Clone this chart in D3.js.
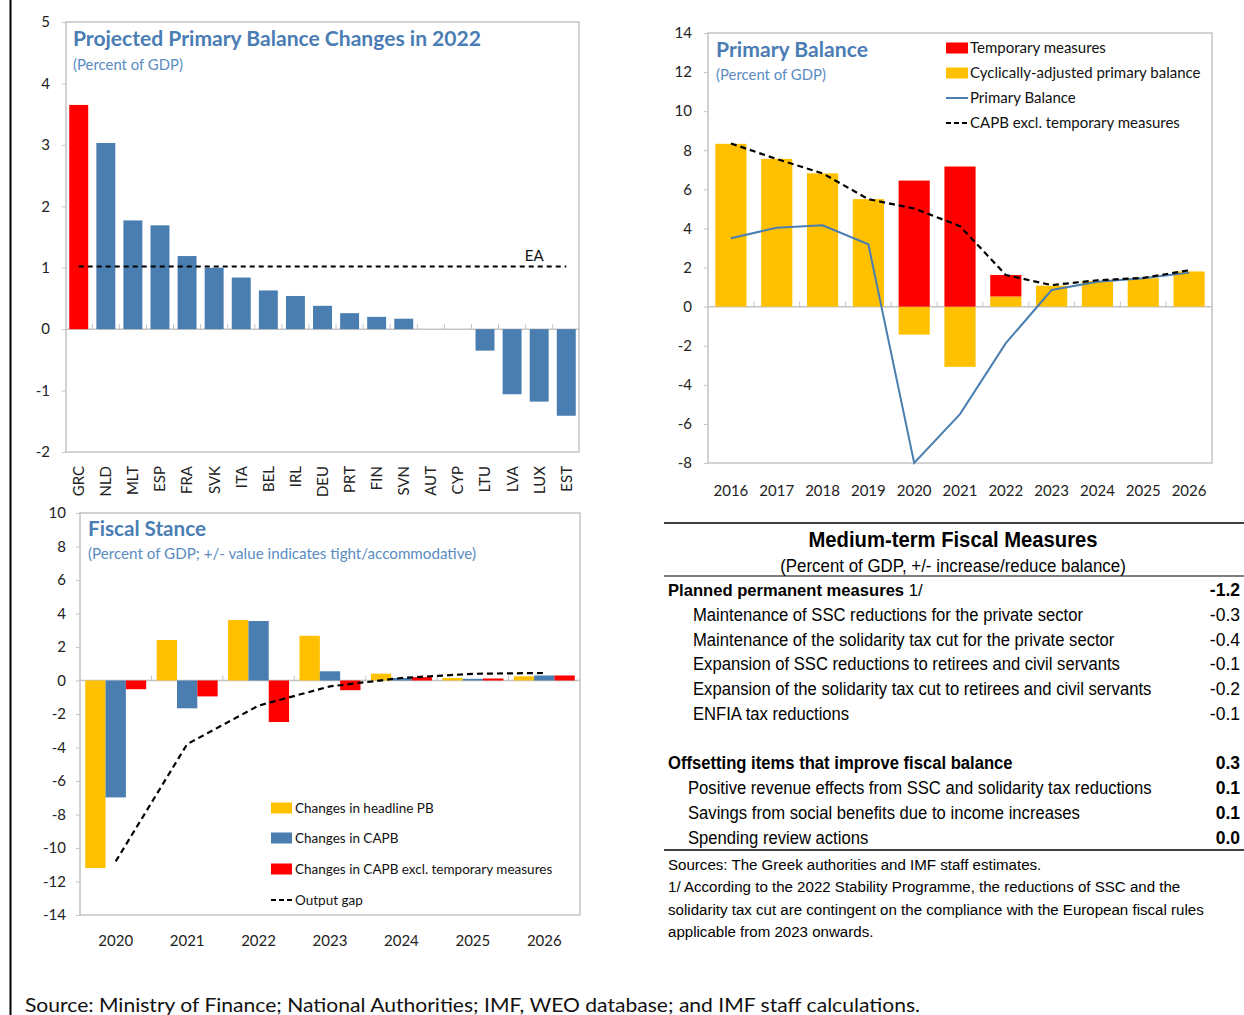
<!DOCTYPE html>
<html>
<head>
<meta charset="utf-8">
<title>Greece: Primary Balance and Fiscal Stance</title>
<script src="https://cdnjs.cloudflare.com/ajax/libs/d3/7.8.5/d3.min.js"></script>
<style>
    body { margin: 0; background: #fff; }
    svg { display: block; }
    .chart-font { font-family: Lato, "Open Sans", sans-serif; }
    .table-font { font-family: "Liberation Sans Narrow", "Arial Narrow", "Liberation Sans", sans-serif; }
</style>
</head>
<body>
<div id="chart"></div>
<script>
    // Projected primary balance changes in 2022
    const countries = ["GRC","NLD","MLT","ESP","FRA","SVK","ITA","BEL","IRL","DEU","PRT","FIN","SVN","AUT","CYP","LTU","LVA","LUX","EST"];
    const pbChange = [3.65, 3.03, 1.77, 1.69, 1.19, 1.0, 0.84, 0.63, 0.54, 0.38, 0.26, 0.2, 0.17, 0, 0, -0.35, -1.06, -1.18, -1.41];
    const eaChange = 1.02;

    // Primary balance
    const pbYears = ["2016","2017","2018","2019","2020","2021","2022","2023","2024","2025","2026"];
    const capb = [8.33, 7.56, 6.82, 5.5, -1.43, -3.08, 0.52, 1.07, 1.31, 1.45, 1.8];
    const tempMeasures = [0, 0, 0, 0, 6.45, 7.17, 1.1, 0, 0, 0, 0];
    const primaryBalance = [3.5, 4.04, 4.16, 3.19, -8.0, -5.5, -1.87, 0.85, 1.27, 1.45, 1.74];
    const capbExclTemp = [8.35, 7.55, 6.82, 5.5, 5.02, 4.12, 1.62, 1.1, 1.35, 1.47, 1.86];

    // Fiscal stance
    const fsYears = ["2020","2021","2022","2023","2024","2025","2026"];
    const chgHeadline = [-11.2, 2.42, 3.61, 2.67, 0.41, 0.15, 0.25];
    const chgCapb = [-6.98, -1.66, 3.55, 0.55, 0.15, 0.1, 0.3];
    const chgCapbExcl = [-0.52, -0.95, -2.48, -0.58, 0.2, 0.12, 0.3];
    const outputGap = [-10.8, -3.8, -1.5, -0.35, 0.15, 0.4, 0.45];

    // Medium-term fiscal measures table
    const tableLabels = [
        "Planned permanent measures",
        "Maintenance of SSC reductions for the private sector",
        "Maintenance of the solidarity tax cut for the private sector",
        "Expansion of SSC reductions to retirees and civil servants",
        "Expansion of the solidarity tax cut to retirees and civil servants",
        "ENFIA tax reductions",
        "",
        "Offsetting items that improve fiscal balance",
        "Positive revenue effects from SSC and solidarity tax reductions",
        "Savings from social benefits due to income increases",
        "Spending review actions"
    ];
    const tableValues = ["-1.2","-0.3","-0.4","-0.1","-0.2","-0.1","","0.3","0.1","0.1","0.0"];
    const tableNotes = [
        "Sources: The Greek authorities and IMF staff estimates.",
        "1/ According to the 2022 Stability Programme, the reductions of SSC and the",
        "solidarity tax cut are contingent on the compliance with the European fiscal rules",
        "applicable from 2023 onwards."
    ];

    const W = 1244, H = 1015;
    const BLUE = "#4a7eb0", RED = "#ff0000", YELLOW = "#ffc000";
    const TITLE = "#4a7db4", SUBTITLE = "#5a8cc2", FRAME = "#c4c4c4";

    const svg = d3.select("#chart").append("svg")
        .attr("width", W).attr("height", H)
        .attr("class", "chart-font");

    svg.append("rect").attr("width", W).attr("height", H).attr("fill", "#fff");
    svg.append("line")
        .attr("x1", 10.5).attr("x2", 10.5).attr("y1", 0).attr("y2", H)
        .attr("stroke", "#000").attr("stroke-width", 2);

    // helpers
    function plotBox(g, x, y) {
        const [x0, x1] = x.range(), [y0, y1] = [y.range()[1], y.range()[0]];
        g.append("rect")
            .attr("x", x0).attr("y", y0).attr("width", x1 - x0).attr("height", y1 - y0)
            .attr("fill", "none").attr("stroke", FRAME).attr("stroke-width", 1.5);
        g.append("line")
            .attr("x1", x0).attr("x2", x1).attr("y1", y(0)).attr("y2", y(0))
            .attr("stroke", FRAME).attr("stroke-width", 1.5);
        // category tick marks on the zero line
        const step = x.step(), gap = step * x.paddingInner() / 2;
        x.domain().slice(1).forEach(d => {
            g.append("line")
                .attr("x1", x(d) - gap).attr("x2", x(d) - gap)
                .attr("y1", y(0)).attr("y2", y(0) - 5)
                .attr("stroke", FRAME).attr("stroke-width", 1);
        });
    }

    function yAxis(g, x, y, step, pad) {
        const [a, b] = y.domain();
        const ax = g.append("g")
            .attr("transform", `translate(${x.range()[0]},0)`)
            .call(d3.axisLeft(y).tickValues(d3.range(a, b + step / 2, step)).tickSize(4).tickPadding(pad).tickFormat(d => String(d)));
        ax.select(".domain").remove();
        ax.selectAll("line").attr("stroke", FRAME);
        ax.selectAll("text").attr("font-size", 15).attr("fill", "#222").attr("font-family", "Lato, sans-serif");
    }

    function titles(g, x, y, title, tw, sub, sw, dy) {
        g.append("text").attr("x", x).attr("y", y)
            .attr("font-size", 21).attr("font-weight", "bold").attr("fill", TITLE)
            .attr("textLength", tw).attr("lengthAdjust", "spacingAndGlyphs")
            .text(title);
        g.append("text").attr("x", x).attr("y", y + dy)
            .attr("font-size", 15).attr("fill", SUBTITLE)
            .attr("textLength", sw).attr("lengthAdjust", "spacingAndGlyphs")
            .text(sub);
    }

    // squeeze a text to a narrower face
    function condense(t, f) {
        const len = t.node().getComputedTextLength();
        t.attr("textLength", len * f).attr("lengthAdjust", "spacingAndGlyphs");
        return len * f;
    }

    // ---------- Chart 1: Projected Primary Balance Changes in 2022
    {
        const g = svg.append("g");
        const x = d3.scaleBand().domain(countries).range([66, 579]).paddingInner(0.3).paddingOuter(0.12);
        const y = d3.scaleLinear().domain([-2, 5]).range([452, 22]);
        plotBox(g, x, y);
        yAxis(g, x, y, 1, 12);

        g.selectAll(".bar").data(countries).join("rect")
            .attr("x", d => x(d))
            .attr("width", x.bandwidth())
            .attr("y", (d, i) => y(Math.max(0, pbChange[i])))
            .attr("height", (d, i) => Math.abs(y(pbChange[i]) - y(0)))
            .attr("fill", (d, i) => i === 0 ? RED : BLUE);

        const cx = d => x(d) + x.bandwidth() / 2;
        g.append("line")
            .attr("x1", cx(countries[0])).attr("x2", cx(countries[countries.length - 1]))
            .attr("y1", y(eaChange)).attr("y2", y(eaChange))
            .attr("stroke", "#000").attr("stroke-width", 2).attr("stroke-dasharray", "5,4");
        g.append("text")
            .attr("x", cx("LUX") - 5).attr("y", y(eaChange) - 5)
            .attr("text-anchor", "middle").attr("font-size", 15).attr("fill", "#111")
            .text("EA");

        g.selectAll(".xl").data(countries).join("text")
            .attr("transform", d => `translate(${cx(d)},${y(-2) + 14}) rotate(-90)`)
            .attr("dy", "0.36em")
            .attr("text-anchor", "end").attr("font-size", 15).attr("fill", "#222")
            .text(d => d);

        titles(g, 73, 46, "Projected Primary Balance Changes in 2022", 408, "(Percent of GDP)", 110, 24);
    }

    // ---------- Chart 2: Primary Balance
    {
        const g = svg.append("g");
        const x = d3.scaleBand().domain(pbYears).range([708, 1212]).paddingInner(0.32).paddingOuter(0.16);
        const y = d3.scaleLinear().domain([-8, 14]).range([463, 33]);
        plotBox(g, x, y);
        yAxis(g, x, y, 2, 12);

        const rows = pbYears.map((yr, i) => ({ year: yr, capb: capb[i], temp: tempMeasures[i] }));
        const series = d3.stack().keys(["capb", "temp"]).offset(d3.stackOffsetDiverging)(rows);
        const colors = { capb: YELLOW, temp: RED };

        g.selectAll(".series").data(series).join("g")
            .attr("fill", s => colors[s.key])
            .selectAll("rect").data(s => s).join("rect")
            .attr("x", d => x(d.data.year))
            .attr("width", x.bandwidth())
            .attr("y", d => y(Math.max(d[0], d[1])))
            .attr("height", d => Math.abs(y(d[0]) - y(d[1])));

        const cx = d => x(d) + x.bandwidth() / 2;
        const line = d3.line().x((d, i) => cx(pbYears[i])).y(d => y(d));
        g.append("path").attr("d", line(primaryBalance))
            .attr("fill", "none").attr("stroke", BLUE).attr("stroke-width", 2);
        g.append("path").attr("d", line(capbExclTemp))
            .attr("fill", "none").attr("stroke", "#000").attr("stroke-width", 2.2).attr("stroke-dasharray", "6,4");

        g.selectAll(".xl").data(pbYears).join("text")
            .attr("x", cx).attr("y", 496)
            .attr("text-anchor", "middle").attr("font-size", 15).attr("fill", "#222")
            .text(d => d);

        titles(g, 716, 57, "Primary Balance", 152, "(Percent of GDP)", 110, 23);

        const legend = [
            { label: "Temporary measures", type: "rect", color: RED },
            { label: "Cyclically-adjusted primary balance", type: "rect", color: YELLOW },
            { label: "Primary Balance", type: "line", color: BLUE },
            { label: "CAPB excl. temporary measures", type: "dash", color: "#000" }
        ];
        const ly = [48, 73, 98, 123];
        legend.forEach((d, i) => {
            if (d.type === "rect") {
                g.append("rect").attr("x", 946).attr("y", ly[i] - 5.5).attr("width", 22).attr("height", 11).attr("fill", d.color);
            } else {
                g.append("line").attr("x1", 946).attr("x2", 968).attr("y1", ly[i]).attr("y2", ly[i])
                    .attr("stroke", d.color).attr("stroke-width", 2)
                    .attr("stroke-dasharray", d.type === "dash" ? "5,3" : null);
            }
            g.append("text").attr("x", 970).attr("y", ly[i]).attr("dy", "0.35em")
                .attr("font-size", 15).attr("fill", "#111").text(d.label);
        });
    }

    // ---------- Chart 3: Fiscal Stance
    {
        const g = svg.append("g");
        const x = d3.scaleBand().domain(fsYears).range([80, 580]).paddingInner(0.146).paddingOuter(0.073);
        const y = d3.scaleLinear().domain([-14, 10]).range([915, 513]);
        plotBox(g, x, y);
        yAxis(g, x, y, 2, 10);

        const keys = ["headline", "capb", "excl"];
        const values = { headline: chgHeadline, capb: chgCapb, excl: chgCapbExcl };
        const colors = { headline: YELLOW, capb: BLUE, excl: RED };
        const xs = d3.scaleBand().domain(keys).range([0, x.bandwidth()]);

        keys.forEach(k => {
            g.append("g").attr("fill", colors[k])
                .selectAll("rect").data(fsYears).join("rect")
                .attr("x", d => x(d) + xs(k))
                .attr("width", xs.bandwidth())
                .attr("y", (d, i) => y(Math.max(0, values[k][i])))
                .attr("height", (d, i) => Math.abs(y(values[k][i]) - y(0)));
        });

        const cx = d => x(d) + x.bandwidth() / 2;
        const line = d3.line().x((d, i) => cx(fsYears[i])).y(d => y(d));
        g.append("path").attr("d", line(outputGap))
            .attr("fill", "none").attr("stroke", "#000").attr("stroke-width", 2.2).attr("stroke-dasharray", "6,4");

        g.selectAll(".xl").data(fsYears).join("text")
            .attr("x", cx).attr("y", 946)
            .attr("text-anchor", "middle").attr("font-size", 15).attr("fill", "#222")
            .text(d => d);

        titles(g, 88, 536, "Fiscal Stance", 118, "(Percent of GDP; +/- value indicates tight/accommodative)", 388, 23);

        const legend = [
            { label: "Changes in headline PB", type: "rect", color: YELLOW },
            { label: "Changes in CAPB", type: "rect", color: BLUE },
            { label: "Changes in CAPB excl. temporary measures", type: "rect", color: RED },
            { label: "Output gap", type: "dash", color: "#000" }
        ];
        const ly = [808, 838, 869, 900];
        legend.forEach((d, i) => {
            if (d.type === "rect") {
                g.append("rect").attr("x", 271).attr("y", ly[i] - 5.5).attr("width", 21).attr("height", 11).attr("fill", d.color);
            } else {
                g.append("line").attr("x1", 271).attr("x2", 292).attr("y1", ly[i]).attr("y2", ly[i])
                    .attr("stroke", d.color).attr("stroke-width", 2).attr("stroke-dasharray", "5,3");
            }
            g.append("text").attr("x", 295).attr("y", ly[i]).attr("dy", "0.35em")
                .attr("font-size", 13.5).attr("fill", "#111").text(d.label);
        });
    }

    // ---------- Table: Medium-term Fiscal Measures
    {
        const g = svg.append("g").attr("class", "table-font").attr("fill", "#000");
        const left = 664, right = 1244;
        const rule = (y, w) => g.append("line").attr("x1", left).attr("x2", right)
            .attr("y1", y).attr("y2", y).attr("stroke", "#000").attr("stroke-width", w);
        rule(523, 1.5);
        rule(576, 1.2);
        rule(850, 1.5);

        condense(g.append("text").attr("x", 953).attr("y", 547).attr("text-anchor", "middle")
            .attr("font-size", 22).attr("font-weight", "bold")
            .text("Medium-term Fiscal Measures"), 0.92);
        condense(g.append("text").attr("x", 953).attr("y", 572).attr("text-anchor", "middle")
            .attr("font-size", 17.5)
            .text("(Percent of GDP, +/- increase/reduce balance)"), 0.965);

        const rowY = i => 596 + i * 24.75;
        tableLabels.forEach((lab, i) => {
            if (!lab) return;
            const heading = i === 0 || i === 7;
            const indent = heading ? 668 : (i < 7 ? 693 : 688);
            if (i === 0) {
                // heading with footnote marker: smaller size instead of squeezing
                const t = g.append("text").attr("x", indent).attr("y", rowY(i)).attr("font-size", 16.6);
                t.append("tspan").attr("font-weight", "bold").text(lab);
                t.append("tspan").text(" 1/");
            } else {
                condense(g.append("text").attr("x", indent).attr("y", rowY(i)).attr("font-size", 17.5)
                    .attr("font-weight", heading ? "bold" : "normal").text(lab), 0.95);
            }
            g.append("text").attr("x", 1240).attr("y", rowY(i)).attr("text-anchor", "end")
                .attr("font-size", 17.5).attr("font-weight", (heading || i > 7) ? "bold" : "normal")
                .text(tableValues[i]);
        });

        tableNotes.forEach((n, i) => {
            condense(g.append("text").attr("x", 668).attr("y", 870 + i * 22.3).attr("font-size", 15.5).text(n), 0.973);
        });
    }

    // ---------- source line
    svg.append("text").attr("x", 25).attr("y", 1012)
        .attr("font-size", 20).attr("fill", "#111")
        .attr("textLength", 895).attr("lengthAdjust", "spacingAndGlyphs")
        .text("Source: Ministry of Finance; National Authorities; IMF, WEO database; and IMF staff calculations.");
</script>
</body>
</html>
